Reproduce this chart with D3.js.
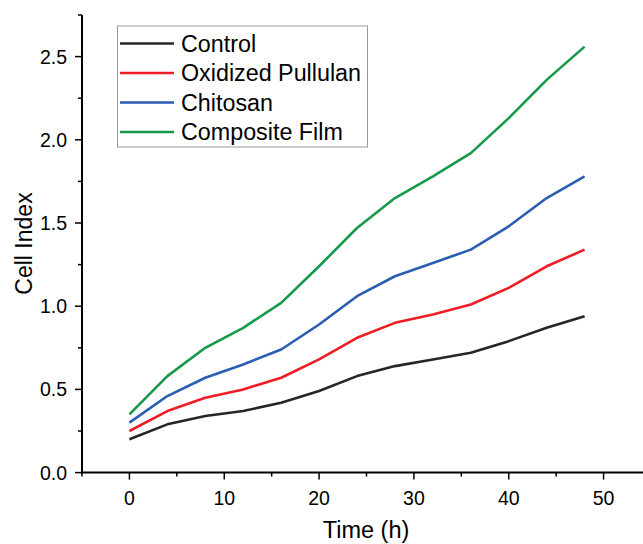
<!DOCTYPE html>
<html lang="en">
<head>
<meta charset="UTF-8">
<title>Cell Index</title>
<script src="https://d3js.org/d3.v7.min.js"></script>
<style>
  body { margin: 0; background: #fff; }
  svg { display: block; font-family: "Liberation Sans", Arial, sans-serif; }
</style>
</head>
<body>
<svg id="chart"></svg>
<script>
const times = [0, 4, 8, 12, 16, 20, 24, 28, 32, 36, 40, 44, 48];
const control = [0.20, 0.29, 0.34, 0.37, 0.42, 0.49, 0.58, 0.64, 0.68, 0.72, 0.79, 0.87, 0.94];
const oxidizedPullulan = [0.25, 0.37, 0.45, 0.50, 0.57, 0.68, 0.81, 0.90, 0.95, 1.01, 1.11, 1.24, 1.34];
const chitosan = [0.30, 0.46, 0.57, 0.65, 0.74, 0.89, 1.06, 1.18, 1.26, 1.34, 1.48, 1.65, 1.78];
const compositeFilm = [0.35, 0.58, 0.75, 0.87, 1.02, 1.24, 1.47, 1.65, 1.78, 1.92, 2.13, 2.36, 2.56];
const seriesNames = ["Control", "Oxidized Pullulan", "Chitosan", "Composite Film"];
const colors = ["#262626", "#ee1d25", "#2b5db3", "#17994a"];
const xTicks = [0, 10, 20, 30, 40, 50];
const yTicks = [0.0, 0.5, 1.0, 1.5, 2.0, 2.5];

const width = 643, height = 544;
const series = [control, oxidizedPullulan, chitosan, compositeFilm];

const svg = d3.select("#chart").attr("width", width).attr("height", height);

const x = d3.scaleLinear().domain([-5, 55]).range([82, 651]);
const y = d3.scaleLinear().domain([0, 2.75]).range([472.6, 15]);

// axes
const xAxis = svg.append("g").attr("transform", `translate(0,${y(0)})`);
xAxis.append("line").attr("x1", x(-5)).attr("x2", width).attr("stroke", "#000").attr("stroke-width", 2);
xAxis.selectAll(".minor").data(d3.range(-5, 56, 10)).join("line")
  .attr("x1", d => x(d)).attr("x2", d => x(d)).attr("y1", 0).attr("y2", 4)
  .attr("stroke", "#000").attr("stroke-width", 1.5);
xAxis.selectAll(".major").data(xTicks).join("g").each(function (d) {
  const g = d3.select(this);
  g.append("line").attr("x1", x(d)).attr("x2", x(d)).attr("y1", 0).attr("y2", 7)
    .attr("stroke", "#000").attr("stroke-width", 1.5);
  g.append("text").attr("x", x(d)).attr("y", 32).attr("text-anchor", "middle")
    .attr("font-size", 19.5).text(d);
});

const yAxis = svg.append("g").attr("transform", `translate(${x(-5)},0)`);
yAxis.append("line").attr("y1", y(0) + 1).attr("y2", y(2.75)).attr("stroke", "#000").attr("stroke-width", 2);
yAxis.selectAll(".minor").data(d3.range(0.25, 2.76, 0.5)).join("line")
  .attr("y1", d => y(d)).attr("y2", d => y(d)).attr("x1", 0).attr("x2", -4)
  .attr("stroke", "#000").attr("stroke-width", 1.5);
yAxis.selectAll(".major").data(yTicks).join("g").each(function (d) {
  const g = d3.select(this);
  g.append("line").attr("y1", y(d)).attr("y2", y(d)).attr("x1", 0).attr("x2", -7)
    .attr("stroke", "#000").attr("stroke-width", 1.5);
  g.append("text").attr("x", -15).attr("y", y(d)).attr("dy", "0.36em").attr("text-anchor", "end")
    .attr("font-size", 19.5).text(d3.format(".1f")(d));
});

svg.append("text").attr("x", 366).attr("y", 538).attr("text-anchor", "middle")
  .attr("font-size", 23.5).text("Time (h)");
svg.append("text").attr("transform", `translate(32,243.5) rotate(-90)`).attr("text-anchor", "middle")
  .attr("font-size", 23).text("Cell Index");

// lines
const line = d3.line().x((d, i) => x(times[i])).y(d => y(d));
svg.selectAll(".series").data(series).join("path")
  .attr("d", line).attr("fill", "none")
  .attr("stroke", (d, i) => colors[i]).attr("stroke-width", 2.6)
  .attr("stroke-linejoin", "round");

// legend
const legend = svg.append("g");
legend.append("rect").attr("x", 117.5).attr("y", 26).attr("width", 250).attr("height", 121)
  .attr("fill", "#fff").attr("stroke", "#999").attr("stroke-width", 1);
seriesNames.forEach((name, i) => {
  const cy = 43.5 + i * 29.5;
  legend.append("line").attr("x1", 120).attr("x2", 174).attr("y1", cy).attr("y2", cy)
    .attr("stroke", colors[i]).attr("stroke-width", 2.6);
  legend.append("text").attr("x", 181).attr("y", cy).attr("dy", "0.36em")
    .attr("font-size", 23.3).text(name);
});
</script>
</body>
</html>
